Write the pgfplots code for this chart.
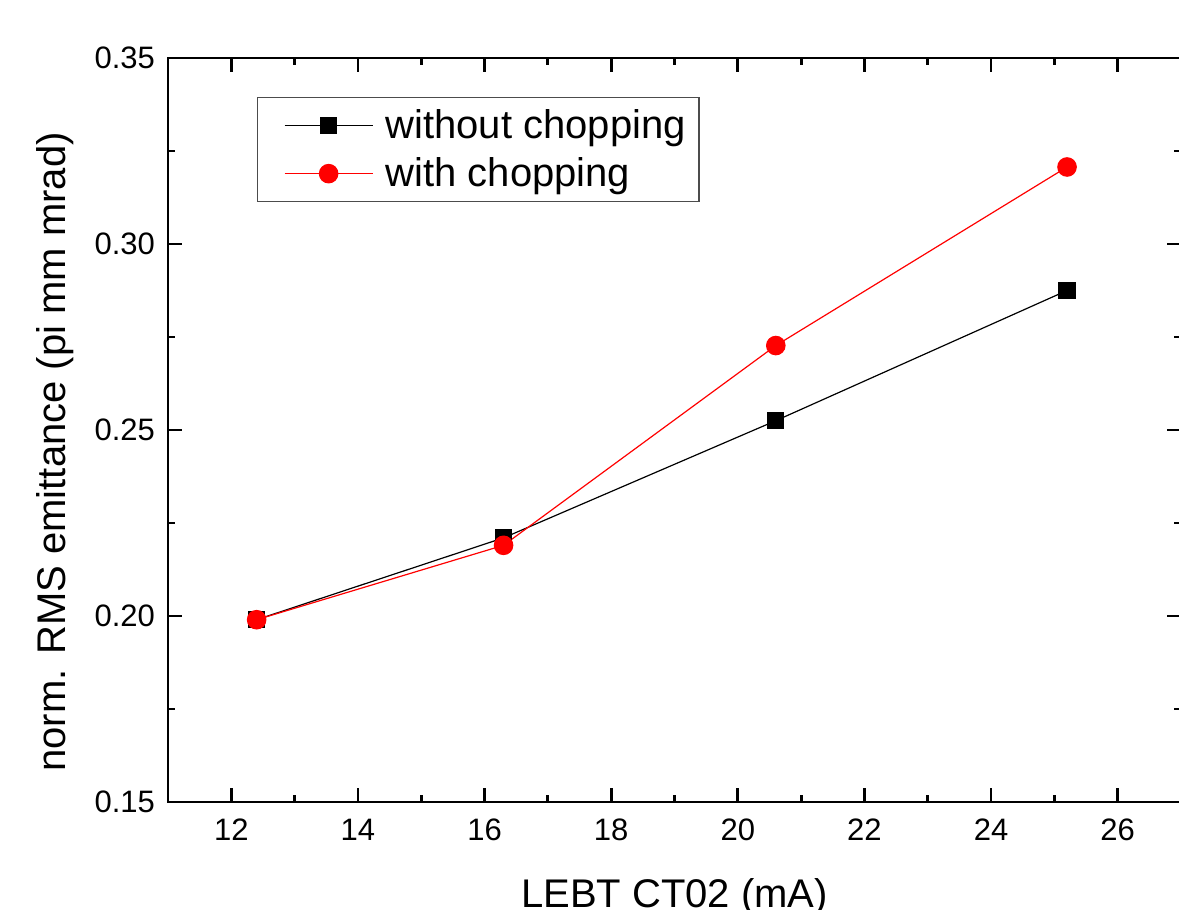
\documentclass[border=0pt]{standalone}
\usepackage{fontspec}
\setmainfont{Liberation Sans}
\usepackage{pgfplots}
\pgfplotsset{compat=1.18}

\begin{document}
\begin{tikzpicture}
\useasboundingbox (0pt,0pt) rectangle (589.5pt,455pt);
\begin{axis}[
  at={(84pt,54pt)}, anchor=south west,
  scale only axis, width=506.5pt, height=372pt,
  xmin=11, xmax=27, ymin=0.15, ymax=0.35,
  xtick={12,14,...,26}, minor x tick num=1,
  ytick={0.15,0.20,0.25,0.30,0.35}, minor y tick num=1,
  tick align=inside,
  major tick length=7pt, minor tick length=3.5pt,
  every tick/.style={black, line width=1.4pt},
  axis line style={line width=1.4pt},
  /pgf/number format/assume math mode=true,
  ticklabel style={font=\fontsize{15.5}{18}\selectfont},
  yticklabel style={xshift=-3pt, /pgf/number format/fixed, /pgf/number format/fixed zerofill, /pgf/number format/precision=2},
  xticklabel style={yshift=-5pt},
  xlabel={LEBT CT02 (mA)},
  ylabel={norm. RMS emittance (pi mm mrad)},
  label style={font=\fontsize{20}{24}\selectfont},
  xlabel style={at={(axis description cs:0.5,0)}, anchor=base, yshift=-53pt},
  ylabel style={at={(axis description cs:-0.1015,0.4704)}, anchor=base},
  legend style={at={(0.0878,0.9476)}, anchor=north west,
    draw=black!70, line width=0.7pt,
    font=\fontsize{20}{24}\selectfont,
    cells={anchor=west}, row sep=4pt, inner xsep=4.5pt, inner ysep=4pt},
  legend image code/.code={%
    \path[draw=none, fill=none] (-9pt,-0.1pt) rectangle (48.5pt,0.1pt);
    \draw[mark repeat=2, mark phase=2] plot coordinates {(0pt,0pt) (22pt,0pt) (44pt,0pt)};},
]
\addplot[black, line width=0.6pt, mark=square*, mark size=4pt, mark options={solid}]
  coordinates {(12.4,0.199) (16.3,0.221) (20.6,0.2525) (25.2,0.2875)};
\addlegendentry{without chopping}
\addplot[red, line width=0.6pt, mark=*, mark size=4.6pt, mark options={solid}]
  coordinates {(12.4,0.199) (16.3,0.219) (20.6,0.2727) (25.2,0.3207)};
\addlegendentry{with chopping}
\end{axis}
\end{tikzpicture}
\end{document}
